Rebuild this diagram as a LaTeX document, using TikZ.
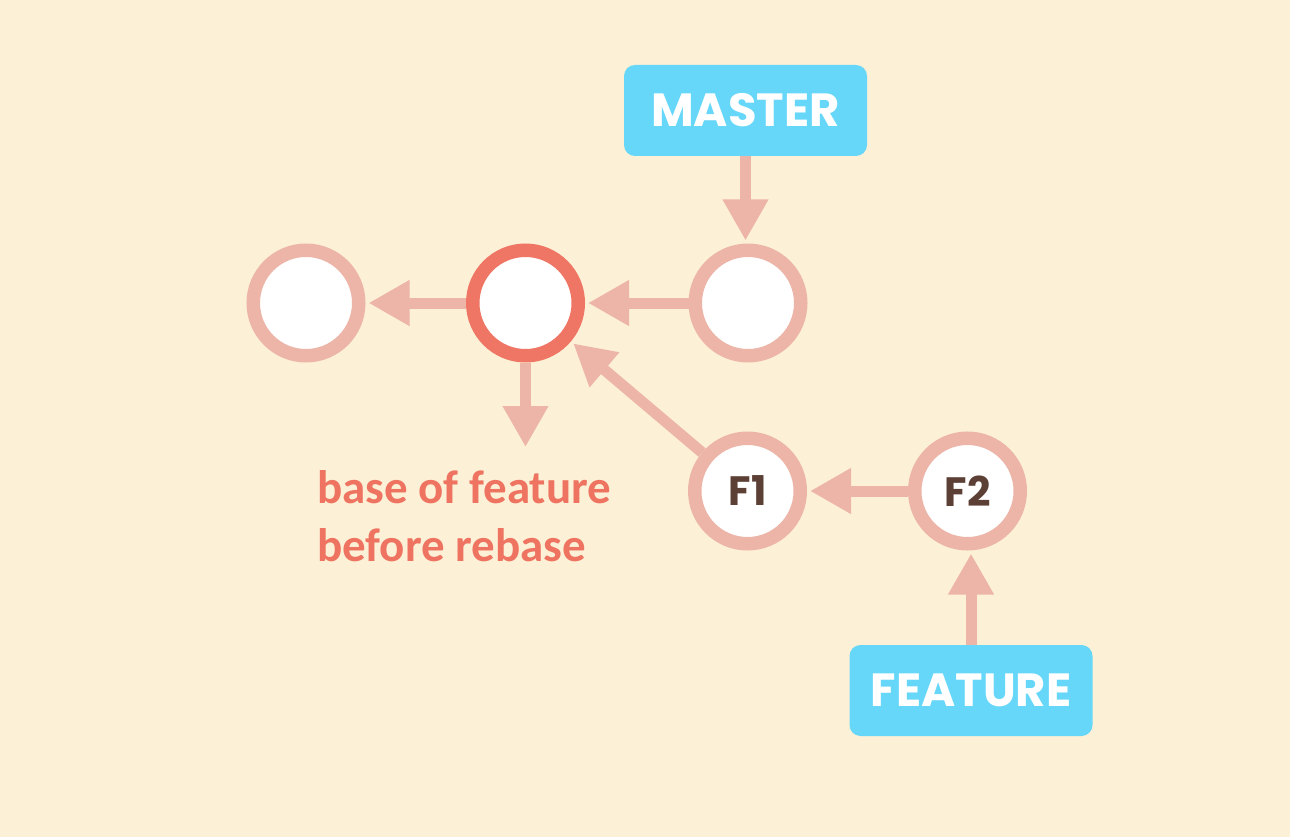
\documentclass[tikz,border=0pt]{standalone}
\usepackage{fontspec}
\setmainfont{Carlito}
\newfontfamily\labelfont{Poppins}[BoldFont=* Bold]
\usetikzlibrary{arrows.meta}

\definecolor{paper}{HTML}{FCF0D6}
\definecolor{ringpink}{HTML}{EDB5A8}
\definecolor{ringred}{HTML}{EF7564}
\definecolor{notered}{HTML}{EE7461}
\definecolor{branchblue}{HTML}{66D7F9}
\definecolor{commitbrown}{HTML}{5C3F35}

\tikzset{
  commit/.style={circle, draw=ringpink, fill=white, line width=13.5pt,
    minimum size=105.5pt, inner sep=0pt,
    font=\labelfont\bfseries\fontsize{41}{41}\selectfont, text=commitbrown},
  basecommit/.style={commit, draw=ringred},
  branch/.style={rectangle, rounded corners=11pt, fill=branchblue,
    minimum width=243pt, minimum height=91pt, inner sep=0pt,
    font=\labelfont\bfseries\fontsize{46.5}{46.5}\selectfont, text=white},
  parent/.style={draw=ringpink, line width=11pt,
    -{Triangle[length=41pt,width=43pt]},
    shorten <=0pt, shorten >=3pt},
}

\begin{document}
\begin{tikzpicture}[x=1pt, y=-1pt]
  % canvas
  \fill[paper] (0,0) rectangle (1290,837);
  \useasboundingbox (0,0) rectangle (1290,837);

  % commits
  \node[commit]     (c0) at (306,303) {};
  \node[basecommit] (c1) at (525.5,303) {};
  \node[commit]     (c2) at (748,303) {};
  \node[commit]     (f1) at (747.5,491) {F1};
  \node[commit]     (f2) at (967.5,491) {F2};

  % branch labels
  \node[branch] (master)  at (745.5,110.5) {MASTER};
  \node[branch] (feature) at (971,690.5)   {FEATURE};

  % note about the old base
  \coordinate (noteptr) at (525.5,450);
  \node[anchor=north west, inner sep=0pt, align=left,
        font=\bfseries\fontsize{47}{58}\selectfont, text=notered]
        (note) at (317,470) {base of feature\\before rebase};

  % parent links
  \draw[parent] (c1) -- (c0);
  \draw[parent] (c2) -- (c1);
  \draw[parent] (f1) -- (c1);
  \draw[parent] (f2) -- (f1);
  \draw[parent] (c1.south) -- (noteptr);

  % branch pointers
  \draw[parent] (master.south) -- (master.south |- c2.north);
  \draw[parent] (feature.north) -- (feature.north |- f2.south);
\end{tikzpicture}
\end{document}
